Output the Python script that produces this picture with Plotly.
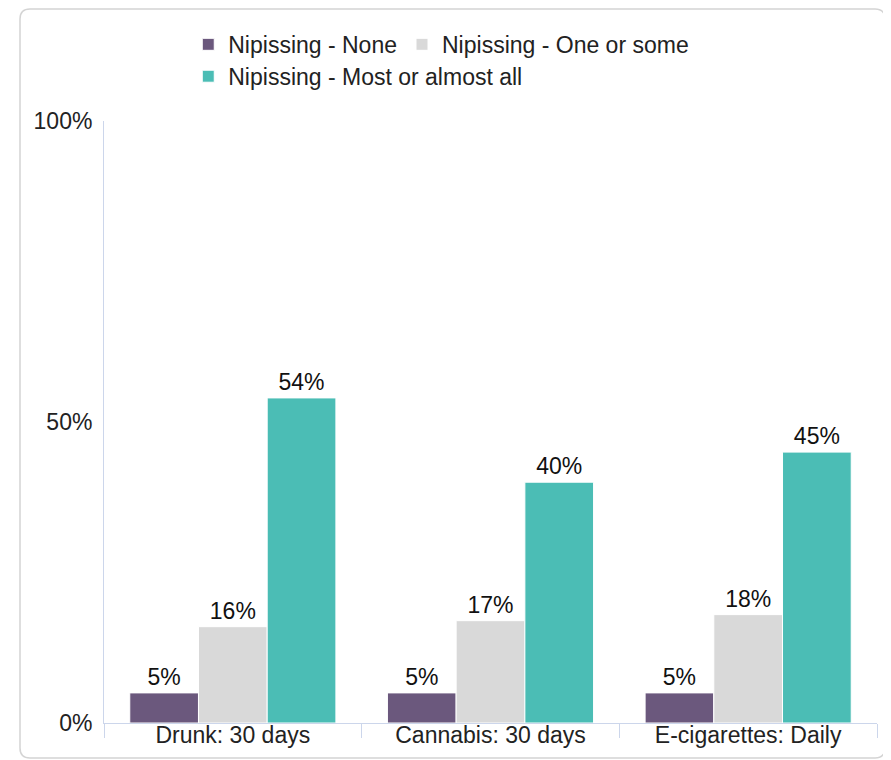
import plotly.graph_objects as go

categories = ["Drunk: 30 days", "Cannabis: 30 days", "E-cigarettes: Daily"]
series_names = ["Nipissing - None", "Nipissing - One or some", "Nipissing - Most or almost all"]
none_vals = [5, 5, 5]
some_vals = [16, 17, 18]
most_vals = [54, 40, 45]
colors = ["#6b587d", "#d9d9d9", "#4bbdb5"]
legend_ids = ["legend", "legend", "legend2"]
y_tickvals = [0, 50, 100]
y_ticktext = ["0%", "50%", "100%"]

FONT = "Liberation Sans, Arial, sans-serif"
FS = 23
fig = go.Figure()
for name, vals, col, lg in zip(series_names, [none_vals, some_vals, most_vals], colors, legend_ids):
    fig.add_trace(go.Bar(
        x=categories, y=vals, name=name, legend=lg,
        marker=dict(color=col, line=dict(color="#ffffff", width=1)),
        texttemplate="%{y}%", textposition="outside", cliponaxis=False,
        textfont=dict(family=FONT, size=FS, color="#111111"),
        hoverinfo="skip",
    ))

legend_common = dict(orientation="h", xanchor="left", yanchor="top",
                     font=dict(family=FONT, size=FS, color="#222222"),
                     bgcolor="rgba(0,0,0,0)", itemclick=False, tracegroupgap=0)

fig.update_layout(
    width=891, height=760,
    margin=dict(l=96, r=22, t=113, b=45, autoexpand=False),
    paper_bgcolor="#ffffff", plot_bgcolor="#ffffff",
    barmode="group", bargap=0.2, bargroupgap=0,
    font=dict(family=FONT, size=FS, color="#222222"),
    showlegend=True,
    legend=dict(x=0.109, y=1.163, **legend_common),
    legend2=dict(x=0.109, y=1.110, **legend_common),
    xaxis=dict(showline=True, linecolor="#ccd6eb", linewidth=1,
               ticks="outside", tickson="boundaries", ticklen=14, tickcolor="#ccd6eb",
               ticklabelstandoff=-9, showgrid=False, automargin=False,
               tickfont=dict(family=FONT, size=FS, color="#222222")),
    yaxis=dict(range=[0, 100], tickvals=y_tickvals, ticktext=y_ticktext,
               showline=True, linecolor="#ccd6eb", linewidth=1,
               showgrid=False, zeroline=False, ticks="", automargin=False,
               ticklabelstandoff=6,
               tickfont=dict(family=FONT, size=FS, color="#222222")),
    shapes=[dict(type="path", xref="paper", yref="paper",
                 xsizemode="pixel", ysizemode="pixel", xanchor=0, yanchor=0,
                 path="M -74,714 L 771,714 Q 781,714 781,704 L 781,-25 Q 781,-35 771,-35 "
                      "L -74,-35 Q -84,-35 -84,-25 L -84,704 Q -84,714 -74,714 Z",
                 line=dict(color="#d4d4d4", width=1.5), fillcolor="rgba(0,0,0,0)",
                 layer="below")],
)

fig.write_html("out.html")
